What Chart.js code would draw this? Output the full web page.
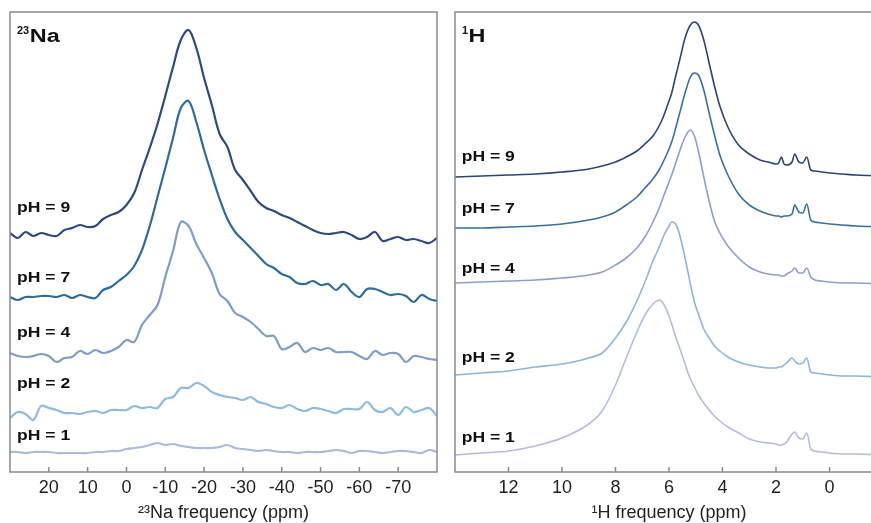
<!DOCTYPE html>
<html>
<head>
<meta charset="utf-8">
<script src="https://cdn.jsdelivr.net/npm/chart.js@4.4.1/dist/chart.umd.min.js"></script>
<style>
    html, body { margin: 0; padding: 0; background: #fff; overflow: hidden; }
    body { width: 871px; height: 523px; position: relative; }
    #naChart { position: absolute; left: 0; top: 0; }
    #hChart { position: absolute; left: 440px; top: 0; }
</style>
</head>
<body>
<canvas id="naChart" width="440" height="523"></canvas>
<canvas id="hChart" width="445" height="523"></canvas>
<script>
const phLabels = ['pH = 9', 'pH = 7', 'pH = 4', 'pH = 2', 'pH = 1'];

// 23Na spectra (stacked, arbitrary intensity), shift in ppm
const naShift = [30, 28, 26, 24, 22, 20, 18, 16, 14, 12, 10, 8, 6, 4, 2, 0, -2, -4, -6, -8,
    -10, -12, -14, -16, -18, -20, -22, -24, -26, -28, -30, -32, -34, -36, -38, -40, -42, -44, -46, -48,
    -50, -52, -54, -56, -58, -60, -62, -64, -66, -68, -70, -72, -74, -76, -78, -80];
const naPH9 = [239, 234, 240, 236, 239, 237, 236, 242, 244, 247, 245, 246, 253, 257, 260, 267, 279, 302, 324, 348,
    376, 405, 432, 442, 424, 394, 367, 338, 325, 302, 292, 281, 270, 264, 261, 257, 254, 250, 246, 242,
    239, 238, 239, 240, 237, 233, 235, 240, 231, 233, 235, 232, 233, 231, 229, 234];
const naPH7 = [175, 172, 175, 175, 176, 176, 175, 177, 174, 177, 175, 174, 182, 185, 191, 197, 206, 222, 246, 275,
    304, 334, 364, 371, 350, 322, 297, 273, 253, 240, 232, 224, 216, 208, 204, 198, 195, 189, 188, 191,
    187, 188, 182, 188, 180, 175, 183, 183, 180, 177, 178, 176, 170, 177, 173, 171];
const naPH4 = [119, 116, 115, 116, 118, 116, 110, 114, 115, 121, 118, 122, 119, 121, 125, 132, 130, 147, 157, 167,
    195, 221, 250, 246, 228, 214, 199, 178, 171, 159, 155, 150, 143, 136, 136, 123, 125, 129, 120, 124,
    122, 124, 120, 120, 120, 116, 113, 121, 117, 119, 118, 110, 116, 115, 113, 112];
const naPH2 = [54, 60, 58, 52, 66, 64, 62, 59, 59, 58, 60, 61, 59, 62, 62, 62, 66, 64, 65, 64,
    73, 75, 84, 84, 89, 86, 80, 77, 75, 74, 72, 75, 70, 68, 65, 64, 67, 63, 61, 64,
    63, 61, 59, 63, 63, 63, 70, 62, 60, 64, 57, 65, 60, 62, 64, 56];
const naPH1 = [20, 20, 19, 20, 20, 20, 19, 19, 19, 19, 19, 20, 20, 21, 21, 23, 24, 25, 27, 29,
    27, 28, 26, 25, 24, 24, 24, 25, 27, 24, 23, 22, 21, 22, 21, 20, 20, 19, 20, 20,
    20, 21, 22, 21, 19, 21, 21, 20, 19, 20, 21, 21, 20, 19, 22, 20];
const naTicks = [20, 10, 0, -10, -20, -30, -40, -50, -60, -70];

// 1H spectra
const hShift = [14, 13, 12, 11, 10, 9, 8.5, 8, 7.6, 7.2, 6.9, 6.6, 6.35, 6.2, 6.0, 5.9, 5.75, 5.6, 5.4, 5.2,
    5.05, 4.9, 4.7, 4.5, 4.3, 4.1, 3.8, 3.4, 3.0, 2.6, 2.3, 2.0, 1.9, 1.8, 1.7, 1.6, 1.4, 1.3, 1.15, 1.0,
    0.85, 0.7, 0.55, 0.3, 0, -0.5, -1.0, -2.0];
const hPH9 = [295, 296, 297, 298, 300, 303, 306, 310, 315, 321, 328, 336, 347, 356, 371, 379, 396, 412, 434, 447,
    450, 447, 432, 409, 386, 366, 345, 327, 318, 312, 310, 308, 309, 315, 308, 307, 310, 318, 310, 309,
    315, 302, 301, 300, 299, 298, 297, 296];
const hPH7 = [244, 244, 245, 246, 248, 252, 255, 260, 267, 275, 284, 293, 303, 311, 323, 330, 344, 359, 379, 395,
    399, 397, 382, 359, 337, 317, 297, 278, 267, 261, 258, 256, 256, 255, 256, 256, 258, 267, 260, 259,
    268, 252, 250, 249, 248, 247, 246, 245];
const hPH4 = [189, 190, 191, 192, 194, 197, 200, 207, 214, 224, 235, 250, 265, 276, 290, 297, 309, 321, 335, 342,
    336, 321, 295, 271, 251, 239, 226, 214, 205, 200, 198, 197, 197, 196, 196, 198, 201, 204, 199, 199,
    204, 195, 192, 191, 190, 189, 189, 188];
const hPH2 = [97, 99, 101, 105, 108, 114, 119, 134, 150, 171, 190, 211, 226, 236, 246, 250, 248, 237, 214, 188,
    170, 158, 143, 134, 126, 121, 115, 110, 107, 105, 104, 104, 105, 105, 107, 109, 114, 111, 108, 109,
    114, 100, 99, 98, 97, 96, 96, 95];
const hPH1 = [17, 19, 21, 26, 34, 48, 61, 87, 114, 140, 157, 168, 172, 168, 156, 148, 135, 124, 108, 93,
    85, 77, 69, 62, 56, 51, 45, 39, 33, 30, 29, 28, 27, 27, 28, 30, 38, 40, 34, 33,
    39, 23, 21, 20, 19, 18, 18, 17];
const hTicks = [12, 10, 8, 6, 4, 2, 0];

const fontFamily = '"Liberation Sans", Arial, sans-serif';

function toPoints(xs, ys) {
    return ys.map((v, i) => ({ x: xs[i], y: v }));
}

function drawWide(ctx, text, px, py, font, stretch) {
    ctx.save();
    ctx.translate(px, py);
    ctx.scale(stretch, 1);
    ctx.font = font;
    ctx.fillText(text, 0, 0);
    const w = ctx.measureText(text).width * stretch;
    ctx.restore();
    return w;
}

// box around the plot + short ticks pointing inward
const framePlugin = {
    id: 'frame',
    afterDraw(chart) {
        const { ctx, chartArea: a, scales: { x } } = chart;
        ctx.save();
        ctx.strokeStyle = '#8a8a8a';
        ctx.lineWidth = 1.5;
        ctx.strokeRect(a.left, a.top, a.right - a.left, a.bottom - a.top);
        ctx.beginPath();
        x.ticks.forEach(t => {
            const px = x.getPixelForValue(t.value);
            ctx.moveTo(px, a.bottom);
            ctx.lineTo(px, a.bottom - 5);
        });
        ctx.stroke();
        ctx.restore();
    }
};

const labelPlugin = {
    id: 'stackLabels',
    afterDatasetsDraw(chart, args, opts) {
        const { ctx, chartArea: a, scales: { x, y } } = chart;
        ctx.save();
        ctx.fillStyle = '#111';
        ctx.textBaseline = 'alphabetic';
        const mx = a.left + 7;
        const w = drawWide(ctx, opts.mass, mx, a.top + 22, 'bold 10px ' + fontFamily, 1.1);
        drawWide(ctx, opts.element, mx + w + 0.5, a.top + 30, 'bold 18px ' + fontFamily, 1.3);
        opts.levels.forEach((lv, i) => {
            drawWide(ctx, phLabels[i], x.getPixelForValue(opts.labelX), y.getPixelForValue(lv),
                'bold 15px ' + fontFamily, 1.17);
        });
        ctx.restore();
    }
};

function spectrum(canvasId, cfg) {
    const ctx = document.getElementById(canvasId).getContext('2d');
    const datasets = cfg.series.map((ys, i) => ({
        label: phLabels[i],
        data: toPoints(cfg.shift, ys),
        borderColor: cfg.colors[i],
        borderWidth: cfg.lineWidth,
        pointRadius: 0,
        tension: cfg.tension,
        cubicInterpolationMode: cfg.smooth,
        fill: false
    }));
    return new Chart(ctx, {
        type: 'line',
        data: { datasets: datasets },
        options: {
            responsive: false,
            animation: false,
            layout: { padding: { left: cfg.padLeft, right: cfg.padRight, top: 12, bottom: 0 } },
            plugins: {
                legend: { display: false },
                tooltip: { enabled: false },
                stackLabels: { mass: cfg.mass, element: cfg.element, levels: cfg.levels, labelX: cfg.labelX }
            },
            scales: {
                x: {
                    type: 'linear',
                    reverse: true,
                    min: cfg.min,
                    max: cfg.max,
                    afterBuildTicks: (s) => { s.ticks = cfg.ticks.map(v => ({ value: v })); },
                    afterFit: (s) => { s.height = 51; },
                    grid: { display: false, drawTicks: false },
                    border: { display: false },
                    ticks: {
                        autoSkip: false,
                        maxRotation: 0,
                        padding: 5,
                        color: '#222',
                        font: { family: fontFamily, size: 18 }
                    },
                    title: {
                        display: true,
                        text: cfg.title,
                        color: '#222',
                        padding: { top: 0, bottom: -1 },
                        font: { family: fontFamily, size: 18 }
                    }
                },
                y: { display: false, min: 0, max: 460 }
            }
        },
        plugins: [framePlugin, labelPlugin]
    });
}

spectrum('naChart', {
    shift: naShift,
    series: [naPH9, naPH7, naPH4, naPH2, naPH1],
    colors: ['#2f4a7d', '#2d6c9c', '#7f9cc8', '#8ebadf', '#a9badb'],
    lineWidth: 2.2,
    tension: 0.35,
    smooth: 'default',
    min: -80, max: 30,
    ticks: naTicks,
    title: '²³Na frequency (ppm)',
    mass: '23', element: 'Na',
    levels: [260, 190, 135, 84, 32],
    labelX: 28.2,
    padLeft: 10, padRight: 3
});

spectrum('hChart', {
    shift: hShift,
    series: [hPH9, hPH7, hPH4, hPH2, hPH1],
    colors: ['#2c4674', '#39709e', '#8c9fcb', '#8fb5d6', '#b0bedb'],
    lineWidth: 1.6,
    tension: 0,
    smooth: 'monotone',
    min: -2, max: 14,
    ticks: hTicks,
    title: '¹H frequency (ppm)',
    mass: '1', element: 'H',
    levels: [311, 259, 199, 110, 30],
    labelX: 13.75,
    padLeft: 15, padRight: 2
});
</script>
</body>
</html>
